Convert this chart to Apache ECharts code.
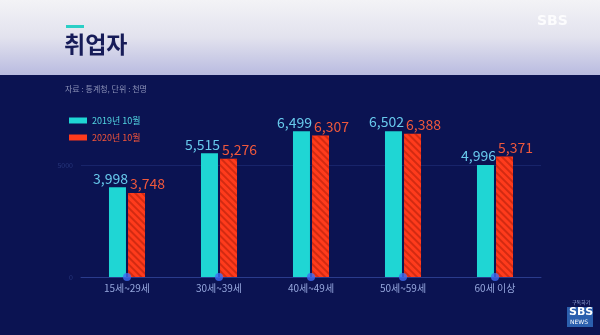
<!DOCTYPE html>
<html><head><meta charset="utf-8">
<script src="https://cdn.jsdelivr.net/npm/echarts@6/dist/echarts.min.js"></script>
<style>html,body{margin:0;padding:0;background:#0b1352;}#c{width:600px;height:335px;}</style>
</head><body><div id="c"></div>
<script>
var categories = ['15세~29세', '30세~39세', '40세~49세', '50세~59세', '60세 이상'];
var seriesNames = ['2019년 10월', '2020년 10월'];
var values2019 = [3998, 5515, 6499, 6502, 4996];
var values2020 = [3748, 5276, 6307, 6388, 5371];
var baseDots = [0, 0, 0, 0, 0];
var yTicks = [0, 5000];
var titleText = '취업자';
var sourceText = '자료 : 통계청, 단위 : 천명';

var chart = echarts.init(document.getElementById('c'));
var KR = '"Noto Sans CJK KR", "Noto Sans", sans-serif';
function fmt(v) { return echarts.format.addCommas(v); }

chart.setOption({
  backgroundColor: '#0b1352',
  animation: false,
  textStyle: { fontFamily: KR },
  graphic: [
    { type: 'rect', shape: { x: 0, y: 0, width: 600, height: 75 }, z: 0,
      style: { fill: new echarts.graphic.LinearGradient(0, 0, 0, 1, [
        { offset: 0, color: '#f3f3f6' }, { offset: 0.5, color: '#e2e2ee' }, { offset: 1, color: '#b9bbe0' }]) } },
    { type: 'rect', shape: { x: 66, y: 25, width: 18, height: 3 }, style: { fill: '#2bcfc6' } },
    { type: 'text', left: 64, top: 33, style: { text: titleText, fill: '#171c58', font: 'bold 23px ' + KR } },
    { type: 'text', left: 537, top: 14, style: { text: 'SBS', fill: 'rgba(255,255,255,0.85)', font: 'bold 14px "DejaVu Sans", sans-serif' } },
    { type: 'text', left: 65, top: 85, style: { text: sourceText, fill: '#8c92b8', font: '8px ' + KR } },
    { type: 'text', left: 572, top: 300, style: { text: '구독하기', fill: '#9fb0e0', font: '5px ' + KR } },
    { type: 'rect', shape: { x: 567, y: 307, width: 26, height: 20 }, style: { fill: '#2b5fae' } },
    { type: 'text', left: 569, top: 307, style: { text: 'SBS', fill: '#ffffff', font: 'bold 11px "DejaVu Sans", sans-serif' } },
    { type: 'text', left: 570, top: 319, style: { text: 'NEWS', fill: '#ffffff', font: '6px "DejaVu Sans", sans-serif' } }
  ],
  legend: {
    orient: 'vertical', left: 64, top: 111, itemWidth: 18, itemHeight: 6, itemGap: 8,
    icon: 'rect',
    data: [
      { name: seriesNames[0], textStyle: { color: '#53d6e2' } },
      { name: seriesNames[1], textStyle: { color: '#f2553a' }, itemStyle: { color: '#ff3b1c', decal: 'none' } }
    ],
    textStyle: { fontSize: 9, fontFamily: KR }
  },
  grid: { left: 81, right: 59, top: 120, bottom: 58 },
  xAxis: {
    type: 'category', data: categories,
    axisLine: { lineStyle: { color: '#2a3b8c', width: 1 } },
    axisTick: { show: false },
    axisLabel: { color: '#95a6dc', fontSize: 10, margin: 6, fontFamily: KR }
  },
  yAxis: {
    type: 'value', min: 0, max: 7000, interval: yTicks[1] - yTicks[0],
    axisLine: { show: false }, axisTick: { show: false },
    axisLabel: { color: '#27367c', fontSize: 7, margin: 8, showMaxLabel: false,
      formatter: function (v) { return String(v); } },
    splitLine: { show: true, showMaxLine: false, lineStyle: { color: '#18246a', width: 1 } }
  },
  series: [
    { name: seriesNames[0], type: 'bar', data: values2019, barWidth: 17, barGap: '12%',
      itemStyle: { color: '#1fd6d4' },
      label: { show: true, position: 'top', distance: 2, offset: [-7, 0], color: '#68c9ec', fontSize: 14,
        fontFamily: KR, formatter: function (p) { return fmt(p.value); } } },
    { name: seriesNames[1], type: 'bar', data: values2020, barWidth: 17,
      itemStyle: { color: '#ff3b1c',
        decal: { symbol: 'rect', color: 'rgba(175,30,10,0.55)', dashArrayX: [1, 0], dashArrayY: [1.5, 2.5], rotation: Math.PI / 4 } },
      label: { show: true, position: 'top', distance: 2, offset: [11, 0], color: '#f0583c', fontSize: 14,
        fontFamily: KR, formatter: function (p) { return fmt(p.value); } } },
    { name: 'dots', type: 'scatter', data: baseDots, symbolSize: 8, z: 5,
      itemStyle: { color: '#3d6cf2' }, silent: true }
  ]
});
</script></body></html>
